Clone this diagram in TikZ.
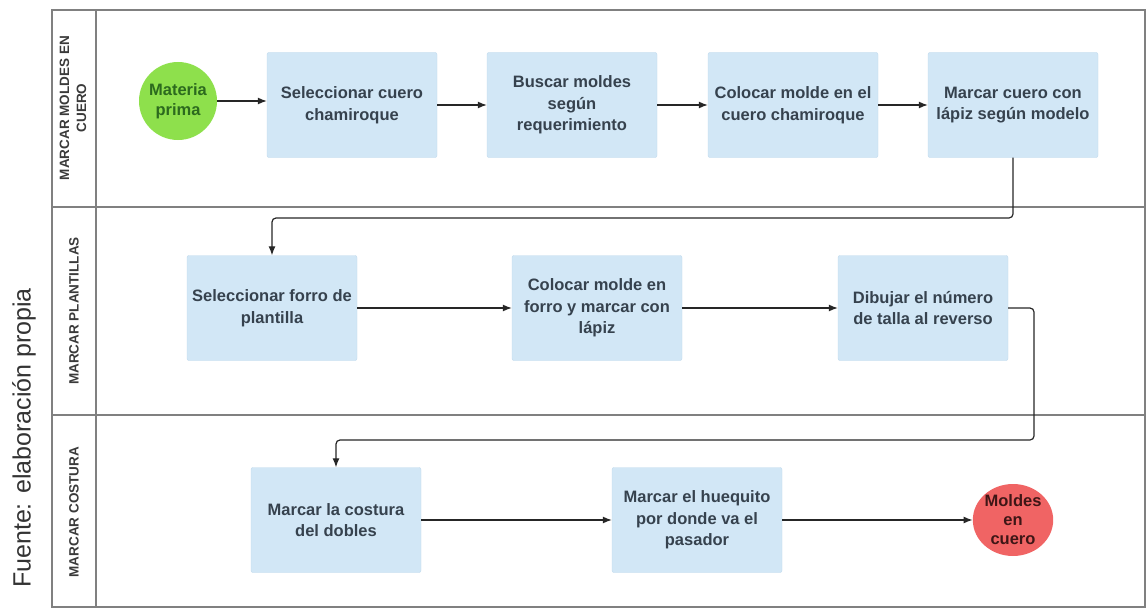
\documentclass[tikz,border=0pt]{standalone}
\usepackage{fontspec}
\setmainfont{Liberation Sans}
\usetikzlibrary{arrows.meta,shapes.geometric}
\definecolor{boxfill}{HTML}{D2E7F6}
\definecolor{boxedge}{HTML}{BFD9EC}
\definecolor{boxtext}{HTML}{36424E}
\definecolor{frameline}{HTML}{808080}
\definecolor{startfill}{HTML}{8EE04C}
\definecolor{starttext}{HTML}{2C6A1E}
\definecolor{endfill}{HTML}{F06464}
\definecolor{endtext}{HTML}{3E1616}
\definecolor{lanetext}{HTML}{3A3A3A}
\begin{document}
\begin{tikzpicture}[x=1pt,y=-1pt,
  procbox/.style={draw=boxedge, fill=boxfill, rounded corners=2pt,
    minimum width=170pt, minimum height=105pt, inner sep=0pt,
    align=center, text=boxtext,
    font=\bfseries\fontsize{16.5}{21.5}\selectfont},
  terminal/.style={inner sep=0pt, align=center,
    font=\bfseries\fontsize{16.5}{20}\selectfont},
  flow/.style={-{Latex[length=9pt,width=7pt]}, line width=1.2pt, black!85},
  lanelabel/.style={rotate=90, align=center, text=lanetext,
    font=\bfseries\fontsize{13.5}{17}\selectfont},
  laneline/.style={draw=frameline, line width=1.2pt}]
\useasboundingbox (0,0) rectangle (1148,610);

% swimlane frame
\draw[laneline] (52,10) rectangle (1145,607);
\draw[laneline] (96,10) -- (96,607);
\draw[laneline] (52,207) -- (1145,207);
\draw[laneline] (52,415) -- (1145,415);

\node[lanelabel] (lane1) at (73,108) {MARCAR MOLDES EN\\CUERO};
\node[lanelabel] (lane2) at (74,311) {MARCAR PLANTILLAS};
\node[lanelabel] (lane3) at (74,512) {MARCAR COSTURA};

\node[rotate=90, text=black!80, font=\fontsize{25}{28}\selectfont] (src) at (24,438) {Fuente: elaboración propia};

% lane 1
\node[terminal, circle, fill=startfill, text=starttext, minimum size=78pt] (start) at (178,101) {Materia\\prima};
\node[procbox] (b1) at (352,105) {Seleccionar cuero\\chamiroque};
\node[procbox] (b2) at (572,105) {Buscar moldes\\según\\requerimiento};
\node[procbox] (b3) at (793,105) {Colocar molde en el\\cuero chamiroque};
\node[procbox] (b4) at (1013,105) {Marcar cuero con\\lápiz según modelo};

% lane 2
\node[procbox] (b5) at (272,308) {Seleccionar forro de\\plantilla};
\node[procbox] (b6) at (597,308) {Colocar molde en\\forro y marcar con\\lápiz};
\node[procbox] (b7) at (923,308) {Dibujar el número\\de talla al reverso};

% lane 3
\node[procbox] (b8) at (336,520) {Marcar la costura\\del dobles};
\node[procbox] (b9) at (697,520) {Marcar el huequito\\por donde va el\\pasador};
\node[terminal, ellipse, fill=endfill, text=endtext, minimum width=78pt, minimum height=72pt] (end) at (1013,520) {Moldes\\[-1pt]en\\[-1pt]cuero};

% connectors
\coordinate (j1) at (640,218);
\coordinate (j2) at (1034,440);
\draw[flow] (start) -- (b1.west |- start);
\draw[flow] (b1) -- (b2);
\draw[flow] (b2) -- (b3);
\draw[flow] (b3) -- (b4);
\draw[flow, rounded corners=4pt] (b4.south) |- (j1) -| (b5.north);
\draw[flow] (b5) -- (b6);
\draw[flow] (b6) -- (b7);
\draw[flow, rounded corners=4pt] (b7.east) -| (j2) -| (b8.north);
\draw[flow] (b8) -- (b9);
\draw[flow] (b9) -- (end);
\end{tikzpicture}
\end{document}
